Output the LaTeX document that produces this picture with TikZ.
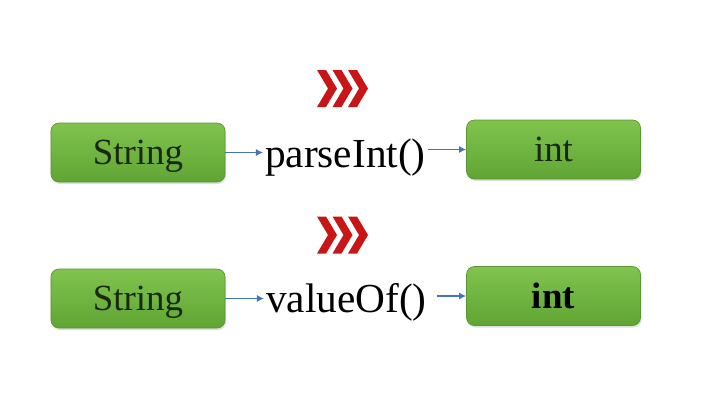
\documentclass[tikz,border=0pt]{standalone}
\usepackage{fontspec}
\setmainfont{Liberation Serif}
\usetikzlibrary{arrows.meta,shadows}

\definecolor{boxtop}{RGB}{128,196,78}
\definecolor{boxbot}{RGB}{96,164,52}
\definecolor{boxline}{RGB}{90,150,52}
\definecolor{boxtext}{RGB}{25,40,15}
\definecolor{linkblue}{RGB}{70,115,190}
\definecolor{chevred}{RGB}{200,22,22}

\tikzset{
  typebox/.style={rounded corners=0.16cm, draw=boxline, line width=0.4pt,
    top color=boxtop, bottom color=boxbot, minimum width=3.48cm,
    minimum height=1.18cm, inner sep=0pt, text=boxtext, text depth=0pt,
    font=\fontsize{21}{24}\selectfont,
    drop shadow={shadow xshift=0.02cm, shadow yshift=-0.04cm, opacity=0.25}},
  method/.style={inner sep=1pt, font=\fontsize{23.5}{28}\selectfont},
  link/.style={draw=linkblue, line width=0.7pt, -{Latex[length=4pt,width=4pt]}}
}

\begin{document}
\begin{tikzpicture}[scale=0.2]
\useasboundingbox (0,0) rectangle (72,-40.4);
% chevrons
\foreach \cy in {-8.85,-23.5}
  \foreach \cx in {31.7,33.25,34.8}
    \fill [chevred] (\cx,\cy+1.85) -- ++(0.9,0) -- ++(1.1,-1.85) -- ++(-1.1,-1.85) -- ++(-0.9,0) -- ++(1.1,1.85) -- cycle;
% parseInt row
\node [typebox] (str1) at (13.8,-15.25) {String};
\node [method, anchor=base west] (parse) at (26.3,-16.7) {parseInt()};
\node [typebox] (int1) at (55.35,-14.95) {int};
\draw [link] (str1.east) -- (str1.east -| parse.west);
\draw [link] (parse.east |- int1.west) -- (int1.west);
% valueOf row
\node [typebox] (str2) at (13.8,-29.85) {String};
\node [method, anchor=base west] (value) at (26.4,-31.2) {valueOf()};
\node [typebox, font=\fontsize{21}{24}\selectfont\bfseries, text=black] (int2) at (55.35,-29.6) {int};
\draw [link] (str2.east) -- (str2.east -| value.west);
\draw [link, shorten <=0.16cm] (value.east |- int2.west) -- (int2.west);
\end{tikzpicture}
\end{document}
